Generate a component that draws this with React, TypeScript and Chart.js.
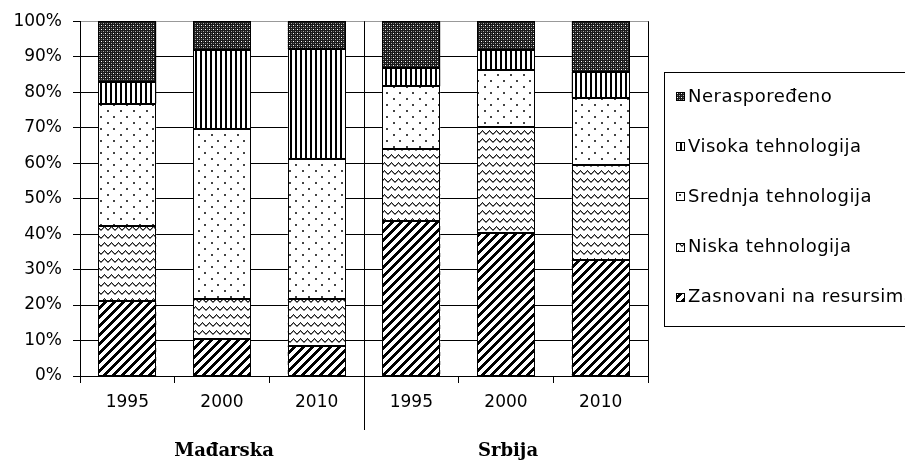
import React, { useEffect, useRef } from "react";
import { Chart, registerables } from "chart.js";

Chart.register(...registerables);

const categories = ["1995", "2000", "2010", "1995", "2000", "2010"];
const groupNames = ["Mađarska", "Srbija"];
const groupSize = 3;

const seriesNames = [
  "Zasnovani na resursima",
  "Niska tehnologija",
  "Srednja tehnologija",
  "Visoka tehnologija",
  "Neraspoređeno",
];
const zasnovani = [21.0, 10.4, 8.5, 43.7, 40.2, 32.7];
const niska = [21.3, 11.3, 13.2, 20.2, 30.0, 26.7];
const srednja = [34.5, 47.8, 39.4, 17.8, 16.0, 19.0];
const visoka = [6.1, 22.3, 31.0, 5.0, 5.8, 7.3];
const nerasporedeno = [17.1, 8.2, 7.9, 13.3, 8.0, 14.3];
const yTicks = [0, 10, 20, 30, 40, 50, 60, 70, 80, 90, 100];

const patternKinds = ["diag", "wave", "dots", "vstripe", "dense"];

function makePattern(kind: string): CanvasPattern | string {
  const c = document.createElement("canvas");
  const ctx = c.getContext("2d");
  if (!ctx) return "#888";
  if (kind === "diag") {
    c.width = 9; c.height = 9;
    ctx.fillStyle = "#fff"; ctx.fillRect(0, 0, 9, 9);
    ctx.fillStyle = "#000";
    for (let y = 0; y < 9; y++) for (let x = 0; x < 9; x++) if ((x + y) % 9 < 4) ctx.fillRect(x, y, 1, 1);
  } else if (kind === "wave") {
    c.width = 7; c.height = 8;
    ctx.fillStyle = "#fff"; ctx.fillRect(0, 0, 7, 8);
    const offs = [0, 1, 2, 2, 1, 0, -1];
    for (let x = 0; x < 7; x++) {
      const y = 3 + offs[x];
      ctx.fillStyle = "#222";
      ctx.fillRect(x, y, 1, 1);
      ctx.fillStyle = "#888";
      ctx.fillRect(x, y + 1, 1, 1);
    }
  } else if (kind === "dots") {
    c.width = 13; c.height = 12;
    ctx.fillStyle = "#fff"; ctx.fillRect(0, 0, 13, 12);
    ctx.fillStyle = "#444";
    ctx.fillRect(3, 2, 2, 2);
    ctx.fillRect(9, 8, 2, 2);
  } else if (kind === "vstripe") {
    c.width = 5; c.height = 5;
    ctx.fillStyle = "#fff"; ctx.fillRect(0, 0, 5, 5);
    ctx.fillStyle = "#000"; ctx.fillRect(0, 0, 2, 5);
  } else {
    c.width = 4; c.height = 4;
    ctx.fillStyle = "#1a1a1a"; ctx.fillRect(0, 0, 4, 4);
    ctx.fillStyle = "#fff"; ctx.fillRect(1, 1, 1, 1);
    ctx.fillStyle = "#aaa"; ctx.fillRect(3, 3, 1, 1);
    ctx.fillStyle = "#666"; ctx.fillRect(1, 3, 1, 1); ctx.fillRect(3, 1, 1, 1);
  }
  return ctx.createPattern(c, "repeat") || "#888";
}

const extrasPlugin = {
  id: "extras",
  afterDatasetsDraw(chart: any) {
    const { ctx } = chart;
    ctx.save();
    ctx.strokeStyle = "#000";
    ctx.lineWidth = 1;
    chart.data.datasets.forEach((_d: any, di: number) => {
      const meta = chart.getDatasetMeta(di);
      meta.data.forEach((bar: any) => {
        const { x, y, base, width } = bar.getProps(["x", "y", "base", "width"], true);
        const l = Math.round(x - width / 2) + 0.5;
        const r = Math.round(x + width / 2) - 0.5;
        const t = Math.round(Math.min(y, base)) + 0.5;
        const b = Math.round(Math.max(y, base)) - 0.5;
        ctx.strokeRect(l, t, r - l, b - t);
      });
    });
    ctx.restore();
  },
  afterDraw(chart: any) {
    const { ctx, chartArea } = chart;
    const x = chart.scales.x;
    const step = x.getPixelForValue(1) - x.getPixelForValue(0);
    ctx.save();
    ctx.strokeStyle = "#000";
    ctx.lineWidth = 1;
    for (let g = 1; g <= groupNames.length; g++) {
      const idx = g * groupSize;
      const px = Math.round(x.getPixelForValue(idx - 1) + step / 2) + 0.5;
      ctx.beginPath();
      ctx.moveTo(px, chartArea.top);
      ctx.lineTo(px, idx < categories.length ? 430 : chartArea.bottom + 7);
      ctx.stroke();
    }
    ctx.fillStyle = "#000";
    ctx.font = "bold 18px 'DejaVu Serif'";
    ctx.textAlign = "center";
    ctx.textBaseline = "middle";
    groupNames.forEach((name, g) => {
      const a = x.getPixelForValue(g * groupSize);
      const b = x.getPixelForValue(g * groupSize + groupSize - 1);
      ctx.fillText(name, (a + b) / 2 + 2, 451);
    });
    ctx.strokeRect(664.5, 72.5, 260, 254);
    ctx.font = "18px 'DejaVu Sans'";
    (ctx as any).letterSpacing = "0.5px";
    ctx.textAlign = "left";
    const ds = chart.data.datasets;
    for (let i = 0; i < ds.length; i++) {
      const d = ds[ds.length - 1 - i];
      const cy = 96 + 50.2 * i;
      ctx.fillStyle = d.backgroundColor;
      ctx.fillRect(676, Math.round(cy) - 4, 9, 9);
      ctx.strokeRect(676.5, Math.round(cy) - 3.5, 8, 8);
      ctx.fillStyle = "#000";
      ctx.fillText(d.label, 688, cy + 1);
    }
    ctx.restore();
  },
};

export default function App() {
  const ref = useRef<HTMLCanvasElement | null>(null);
  useEffect(() => {
    document.body.style.margin = "0";
    if (!ref.current) return;
    const series = [zasnovani, niska, srednja, visoka, nerasporedeno];
    const chart = new Chart(ref.current, {
      type: "bar",
      data: {
        labels: categories,
        datasets: series.map((vals, i) => ({
          label: seriesNames[i],
          data: vals,
          backgroundColor: makePattern(patternKinds[i]) as any,
          borderColor: "#000",
          borderWidth: 0,
          inflateAmount: 0,
          categoryPercentage: 1,
          barPercentage: 0.61,
        })),
      },
      options: {
        animation: false,
        responsive: false,
        devicePixelRatio: 1,
        layout: { padding: { left: 0, top: 21, right: 257, bottom: 0 } },
        plugins: { legend: { display: false }, tooltip: { enabled: false } },
        scales: {
          x: {
            stacked: true,
            afterFit: (s: any) => { s.height = 85; },
            grid: { drawOnChartArea: false, offset: true, tickLength: 7, tickColor: "#000", color: "#000" },
            border: { color: "#000", width: 1 },
            ticks: { color: "#000", font: { family: "'DejaVu Sans'", size: 17 }, padding: 9, maxRotation: 0, autoSkip: false },
          },
          y: {
            stacked: true,
            min: 0,
            max: 100,
            afterFit: (s: any) => { s.width = 80; },
            afterBuildTicks: (s: any) => { s.ticks = yTicks.map((v) => ({ value: v })); },
            grid: {
              color: (c: any) => (c.tick && c.tick.value === 100 ? "#999" : "#000"),
              tickColor: "#000",
              tickLength: 7,
            },
            border: { color: "#000", width: 1 },
            ticks: {
              color: "#000",
              font: { family: "'DejaVu Sans'", size: 17 },
              padding: 11,
              callback: (v: any) => v + "%",
            },
          },
        },
      },
      plugins: [extrasPlugin],
    });
    return () => chart.destroy();
  }, []);
  return (
    <div style={{ width: 905, height: 461, background: "#fff" }}>
      <canvas ref={ref} width={905} height={461} style={{ display: "block" }} />
    </div>
  );
}
